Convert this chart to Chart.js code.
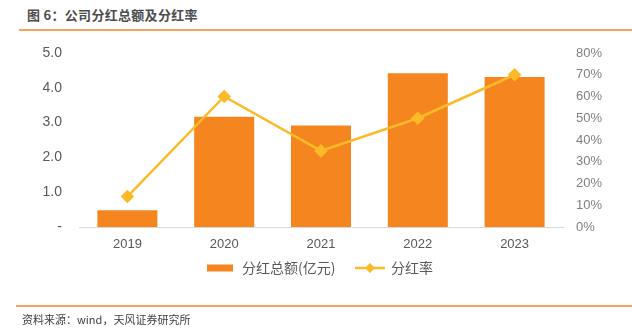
<!DOCTYPE html>
<html>
<head>
<meta charset="utf-8">
<script src="https://cdn.jsdelivr.net/npm/chart.js@4.4.1/dist/chart.umd.min.js"></script>
<style>
  html, body { margin: 0; padding: 0; background: #fff; }
  #wrap { position: relative; width: 632px; height: 332px; overflow: hidden; font-family: "Noto Sans CJK SC", "Liberation Sans", sans-serif; }
  #title { position: absolute; left: 27px; top: 5px; font-size: 13px; font-weight: bold; color: #4d4d4d; letter-spacing: 0.3px; }
  .rule { position: absolute; height: 2px; background: #f5a35d; }
  #source { position: absolute; left: 22px; top: 311px; font-size: 11px; color: #404040; }
  canvas { position: absolute; left: 0; top: 0; }
</style>
</head>
<body>
<div id="wrap">
  <div id="title">图 6：公司分红总额及分红率</div>
  <div class="rule" style="left:19px; top:29px; width:613px;"></div>
  <canvas id="dividendChart" width="632" height="332"></canvas>
  <div class="rule" style="left:16px; top:305px; width:616px;"></div>
  <div id="source">资料来源：wind，天风证券研究所</div>
</div>
<script>
const years = ['2019', '2020', '2021', '2022', '2023'];
const dividendTotal = [0.48, 3.17, 2.92, 4.42, 4.31];   // 分红总额(亿元)
const payoutRatio = [0.14, 0.60, 0.35, 0.50, 0.70];     // 分红率
const amountTicks = ['-', '1.0', '2.0', '3.0', '4.0', '5.0'];
const ratioTicks = ['0%', '10%', '20%', '30%', '40%', '50%', '60%', '70%', '80%'];

const barColor = '#f5851f';
const lineColor = '#fbba27';
const textColor = '#595959';

// legend row under the x axis: wide swatch for the bars, line + diamond for the ratio
const bottomLegend = {
  id: 'bottomLegend',
  afterDraw(chart) {
    const c = chart.ctx;
    const bars = chart.data.datasets.find(d => d.type === 'bar');
    const line = chart.data.datasets.find(d => d.type === 'line');
    const y = 268;
    c.save();
    c.font = '14px "Noto Sans CJK SC", sans-serif';
    c.textBaseline = 'middle';
    c.fillStyle = bars.backgroundColor;
    c.fillRect(207, y - 3.5, 26, 7);
    c.fillStyle = textColor;
    c.fillText(bars.label, 242, y);

    c.strokeStyle = line.borderColor;
    c.lineWidth = 2.5;
    c.beginPath();
    c.moveTo(355, y);
    c.lineTo(385, y);
    c.stroke();
    c.fillStyle = line.pointBackgroundColor;
    c.beginPath();
    c.moveTo(370, y - 5);
    c.lineTo(375, y);
    c.lineTo(370, y + 5);
    c.lineTo(365, y);
    c.closePath();
    c.fill();
    c.fillStyle = textColor;
    c.fillText(line.label, 391, y);
    c.restore();
  }
};

const ctx = document.getElementById('dividendChart').getContext('2d');
new Chart(ctx, {
  data: {
    labels: years,
    datasets: [
      {
        type: 'line',
        label: '分红率',
        data: payoutRatio,
        yAxisID: 'yRatio',
        borderColor: lineColor,
        borderWidth: 2.5,
        pointStyle: 'rectRot',
        pointRadius: 5,
        pointBackgroundColor: lineColor,
        pointBorderColor: lineColor,
        tension: 0,
        order: 0
      },
      {
        type: 'bar',
        label: '分红总额(亿元)',
        data: dividendTotal,
        yAxisID: 'yAmount',
        backgroundColor: barColor,
        barPercentage: 0.62,
        categoryPercentage: 1,
        order: 1
      }
    ]
  },
  options: {
    responsive: false,
    animation: false,
    layout: { padding: { top: 53, bottom: 80, left: 0, right: 0 } },
    plugins: { legend: { display: false }, tooltip: { enabled: false } },
    scales: {
      x: {
        grid: { display: false, drawTicks: false },
        border: { display: true, color: '#d9d9d9', width: 1 },
        ticks: { color: textColor, font: { size: 13, family: 'Liberation Sans' }, padding: 10 },
        afterFit(scale) { scale.height = 25; }
      },
      yAmount: {
        position: 'left',
        min: 0,
        max: 5,
        grid: { display: false, drawTicks: false },
        border: { display: false },
        ticks: {
          stepSize: 1,
          padding: 17,
          color: textColor,
          font: { size: 14, family: 'Liberation Sans' },
          callback: (v, i) => amountTicks[i]
        },
        afterFit(scale) { scale.width = 79; }
      },
      yRatio: {
        position: 'right',
        min: 0,
        max: 0.8,
        grid: { display: false, drawTicks: false },
        border: { display: false },
        ticks: {
          stepSize: 0.1,
          padding: 13,
          color: '#7f7f7f',
          font: { size: 13, family: '"Liberation Sans Narrow", "Liberation Sans", sans-serif' },
          callback: (v, i) => ratioTicks[i]
        },
        afterFit(scale) { scale.width = 69; }
      }
    }
  },
  plugins: [bottomLegend]
});
</script>
</body>
</html>
